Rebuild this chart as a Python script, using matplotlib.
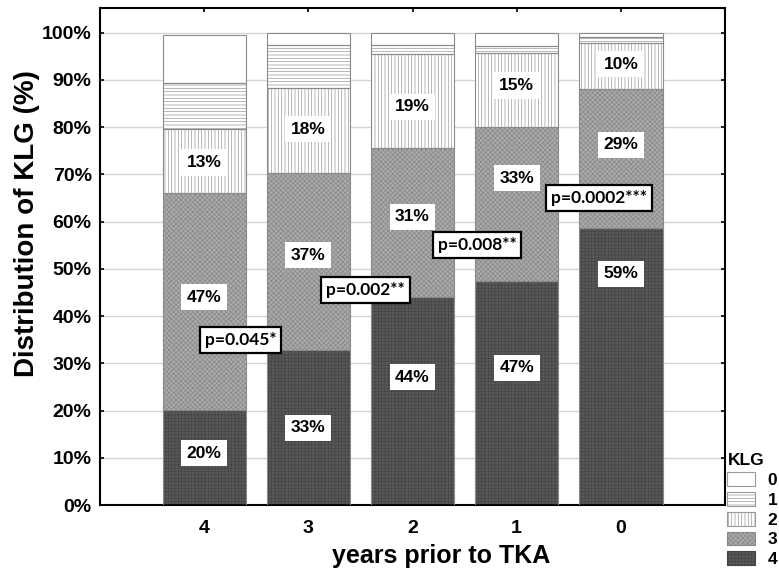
import matplotlib
matplotlib.use("Agg")
import matplotlib.pyplot as plt
from matplotlib.patches import Patch
import numpy as np

# ---- data ----
years = ['4', '3', '2', '1', '0']
klg4 = [20.1, 32.8, 44.0, 47.4, 58.6]
klg3 = [46.0, 37.4, 31.5, 32.6, 29.4]
klg2 = [13.4, 18.0, 20.0, 15.6, 9.7]
klg1 = [9.9, 9.1, 1.8, 1.5, 1.4]
klg0 = [10.1, 2.7, 2.7, 2.9, 0.9]

lab4 = ['20%', '33%', '44%', '47%', '59%']
lab3 = ['47%', '37%', '31%', '33%', '29%']
lab2 = ['13%', '18%', '19%', '15%', '10%']

p_text = ['p=0.045*', 'p=0.002**', 'p=0.008**', 'p=0.0002***']

# ---- layout of annotations (data units) ----
lab4_y = [11.0, 16.3, 27.0, 29.0, 48.9]
lab3_y = [44.0, 52.9, 61.0, 69.2, 76.2]
lab2_y = [72.5, 79.5, 84.3, 88.8, 93.3]
p_x = [0.35, 1.55, 2.62, 3.79]
p_y = [35.0, 45.5, 55.0, 65.0]

plt.rcParams['font.family'] = ['Liberation Sans', 'DejaVu Sans']
plt.rcParams['hatch.linewidth'] = 0.5

fig = plt.figure(figsize=(7.79, 5.8), dpi=100)
ax = fig.add_axes([100 / 779, 75 / 580, 625 / 779, 497.5 / 580])

styles = [
    # (face, hatch, hatchcolor)
    ('#585858', '+++++', '#444444'),   # KLG4
    ('#ababab', 'xxxxxxx', '#888888'),  # KLG3
    ('white', '|||||', '#9a9a9a'),    # KLG2
    ('white', '-----', '#9a9a9a'),    # KLG1
    ('white', '', '#9a9a9a'),         # KLG0
]
series = [klg4, klg3, klg2, klg1, klg0]
names = ['4', '3', '2', '1', '0']

x = np.arange(len(years))
w = 0.8
bottom = np.zeros(len(years))
for vals, (fc, h, hc) in zip(series, styles):
    vals = np.array(vals)
    ax.bar(x, vals, w, bottom=bottom, color=fc, hatch=h, edgecolor=hc,
           linewidth=0, zorder=2)
    ax.bar(x, vals, w, bottom=bottom, fill=False, edgecolor='#8a8a8a',
           linewidth=0.8, zorder=3)
    bottom += vals

box = dict(boxstyle='square,pad=0.32', facecolor='white', edgecolor='none')
for labs, ys in [(lab4, lab4_y), (lab3, lab3_y), (lab2, lab2_y)]:
    for xi, t, yy in zip(x, labs, ys):
        ax.text(xi, yy, t, ha='center', va='center', fontsize=12.5,
                fontweight='bold', bbox=box, zorder=5)

pbox = dict(boxstyle='square,pad=0.28', facecolor='white', edgecolor='black',
            linewidth=1.6)
for t, px, py in zip(p_text, p_x, p_y):
    ax.text(px, py, t, ha='center', va='center', fontsize=12.5,
            fontweight='bold', family=['Lato', 'DejaVu Sans'], bbox=pbox, zorder=6)

ax.set_xlim(-1, 5)
ax.set_ylim(0, 105.3)
ax.set_xticks(x)
ax.set_xticklabels(years)
ax.set_yticks(np.arange(0, 101, 10))
ax.set_yticklabels([f'{v}%' for v in range(0, 101, 10)])
ax.yaxis.grid(True, color='#d4d4d4', linewidth=1.0, zorder=0)
ax.set_axisbelow(True)
ax.tick_params(axis='both', direction='in', length=3, width=1.2,
               labelsize=14)
ax.tick_params(axis='y', right=True, pad=6)
ax.tick_params(axis='x', top=True, pad=11)
for lab in ax.get_xticklabels() + ax.get_yticklabels():
    lab.set_fontweight('bold')
for s in ax.spines.values():
    s.set_linewidth(1.5)

ax.set_ylabel('Distribution of KLG (%)', fontsize=20, fontweight='bold')
ax.set_xlabel('years prior to TKA', fontsize=18, fontweight='bold')
ax.yaxis.set_label_coords(-60 / 625, 0.565)
ax.xaxis.set_label_coords(0.545, -39 / 497.5)

handles = []
for (fc, h, hc), n in zip(styles[::-1], names[::-1]):
    handles.append(Patch(facecolor=fc, hatch=h, edgecolor=hc, linewidth=0.8, label=n))
leg = fig.legend(handles=handles, title='KLG', loc='upper left',
                 bbox_to_anchor=(724 / 779, 1 - 450 / 580), frameon=False,
                 fontsize=12.5, title_fontproperties={'weight': 'bold', 'size': 12.5},
                 handlelength=1.6, handleheight=0.85, labelspacing=0.22,
                 handletextpad=0.7, borderaxespad=0, borderpad=0.2,
                 alignment='left')
for t in leg.get_texts():
    t.set_fontweight('bold')

fig.savefig('out.png', dpi=100)
